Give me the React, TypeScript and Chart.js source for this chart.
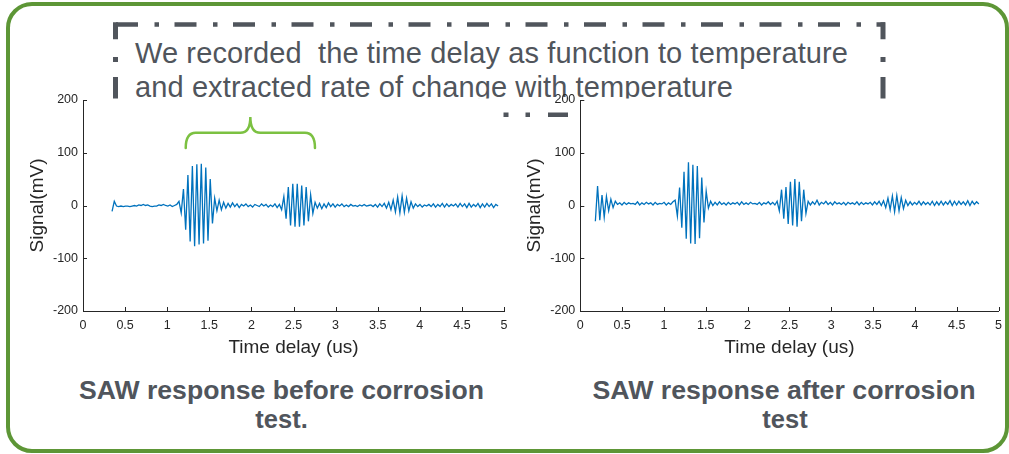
import React, { useEffect, useRef } from "react";
import { Chart, registerables } from "chart.js";

Chart.register(...registerables);

// ---- recorded traces ------------------------------------------------------
// Both traces were sampled every SAMPLE_STEP microseconds.
const SAMPLE_STEP = 0.0265;
const BEFORE_START = 0.345;
const AFTER_START = 0.18;

// Signal (mV) before the corrosion test
const BEFORE_SIGNAL = [
  -11, 8,
  -1, -2, -1, -2, -1, -1, -2, -1, 0, -1, 1, 0, 2, 0, 1, -1, -2, -1, -1, 1, 0, 2, 0, -1, 1, -2, 0, 2,
  8, -14, 31, -46, 58, -68, 75, -77, 78, -74, 79, -72, 72, -67, 50, -34, 14, -10, 10,
  -8, 6, -5, 4, -3, 5, -2, 3, -4, 2, -1, 3, -2, 1, -3, 2, 0, -2, 3, -1, 2, -3, 1, -2, 3, -4, 2,
  -8, 17, -25, 35, -38, 41, -40, 41, -40, 38, -38, 35, -30, 20, -15,
  6, -5, 4, -6, 3, -4, 5, -2, 3, -3, 2, -1, 3, -2, 1, -2, 2, -1, 0, -2, 1, -1, 2, -1, 0, 1, -2, 2, -3, 3, -2, 4, -5,
  6, -8, 10, -12, 16, -14, 18, -13, 14, -10, 7,
  -5, 3, -2, 2, -3, 1, -1, 2, -2, 3, -3, 2, -2, 4, -3, 3, -2, 2, -1, 3, -3, 4, -2, 3, -4, 4, -3, 2, -2, 4, -4, 3, -3, 4, -2, 3, -4, 2, -1,
];

// Signal (mV) after the corrosion test
const AFTER_SIGNAL = [
  -30, 37, -28, 20, -22, 17, -10, 12, -4, 8,
  2, 5, 1, 6, 2, 5, 3, 4, 2, 7, 1, 5, 2, 6, 3, 5, 1, 6, 2, 4, 3, 6, 1, 5, 2, 7,
  10, -20, 34, -42, 64, -63, 82, -72, 77, -73, 75, -62, 53, -32, 27, -5,
  8, 0, 6, 1, 7, 2, 5, 1, 6, 2, 5, 3, 6, 1, 7, 2, 5, 2, 6, 3, 4, 2, 6, 1, 5, 3, 7, 2, 6, 1, 8,
  -10, 30, -25, 35, -35, 45, -38, 50, -40, 45, -30, 30, -15,
  8, 1, 7, 2, 10, 1, 6, 3, 8, 2, 6, 1, 7, 3, 5, 2, 6, 1, 6, 3, 5, 2, 7, 1, 6, 2, 5, 3, 6, 1, 7, 2, 8, 0, 9,
  -4, 14, -8, 18, -12, 19, -10, 15, -6, 10,
  0, 7, 1, 6, 2, 8, 1, 7, 2, 6, 1, 8, 0, 7, 1, 8, 1, 7, 2, 9, 0, 8, 1, 8, 2, 7, 1, 9, 0, 8, 2, 7, 3,
];

// ---- axes -----------------------------------------------------------------
const X_TICKS = [0, 0.5, 1, 1.5, 2, 2.5, 3, 3.5, 4, 4.5, 5];
const Y_TICKS = [-200, -100, 0, 100, 200];
const X_TITLE = "Time delay (us)";
const Y_TITLE = "Signal(mV)";

// ---- texts ----------------------------------------------------------------
const NOTE_LINES = [
  "We recorded  the time delay as function to temperature",
  "and extracted rate of change with temperature",
];
const CAPTION_BEFORE = ["SAW response before corrosion", "test."];
const CAPTION_AFTER = ["SAW response after corrosion", "test"];

// Bracket spanning the first two echoes (time in us, level in mV)
const BRACE = { from: 1.22, to: 2.755, base: 109, arm: 138, tip: 168 };

// ---- styling --------------------------------------------------------------
const PAGE_W = 1009;
const PAGE_H = 454;
const LINE_COLOR = "#0072BD";
const AXIS_COLOR = "#262626";
const SLATE = "#50555c";
const FRAME_GREEN = "#5d9636";
const BRACE_GREEN = "#7cc142";
const FONT = "'Liberation Sans', Arial, Helvetica, sans-serif";

const toPoints = (start: number, values: number[]) =>
  values.map((v, i) => ({ x: start + i * SAMPLE_STEP, y: v }));

// MATLAB-style tick marks pointing into the plot box
const innerTicks = {
  id: "innerTicks",
  afterDraw(chart: any) {
    const { ctx, chartArea, scales } = chart;
    ctx.save();
    ctx.strokeStyle = AXIS_COLOR;
    ctx.lineWidth = 1;
    ctx.beginPath();
    scales.x.ticks.forEach((t: any) => {
      const px = Math.round(scales.x.getPixelForValue(t.value)) + 0.5;
      ctx.moveTo(px, chartArea.bottom);
      ctx.lineTo(px, chartArea.bottom - 4);
    });
    scales.y.ticks.forEach((t: any) => {
      const py = Math.round(scales.y.getPixelForValue(t.value)) + 0.5;
      ctx.moveTo(chartArea.left, py);
      ctx.lineTo(chartArea.left + 4, py);
    });
    ctx.stroke();
    ctx.restore();
  },
};

const bracePlugin = {
  id: "echoBrace",
  afterDatasetsDraw(chart: any) {
    const { ctx, scales } = chart;
    const xs = scales.x;
    const ys = scales.y;
    const x0 = xs.getPixelForValue(BRACE.from);
    const x1 = xs.getPixelForValue(BRACE.to);
    const xm = (x0 + x1) / 2;
    const yb = ys.getPixelForValue(BRACE.base);
    const ya = ys.getPixelForValue(BRACE.arm);
    const yt = ys.getPixelForValue(BRACE.tip);
    const r = 10;
    ctx.save();
    ctx.strokeStyle = BRACE_GREEN;
    ctx.lineWidth = 2.5;
    ctx.lineCap = "round";
    ctx.beginPath();
    ctx.moveTo(x0, yb);
    ctx.quadraticCurveTo(x0, ya, x0 + r, ya);
    ctx.lineTo(xm - r, ya);
    ctx.quadraticCurveTo(xm, ya, xm, yt);
    ctx.quadraticCurveTo(xm, ya, xm + r, ya);
    ctx.lineTo(x1 - r, ya);
    ctx.quadraticCurveTo(x1, ya, x1, yb);
    ctx.stroke();
    ctx.restore();
  },
};

function makeConfig(start: number, values: number[], padding: any, extra: any[]) {
  const tickFont = { family: FONT, size: 12.5 };
  const titleFont = { family: FONT, size: 19 };
  return {
    type: "line",
    data: {
      datasets: [
        {
          data: toPoints(start, values),
          borderColor: LINE_COLOR,
          borderWidth: 1.3,
          pointRadius: 0,
          tension: 0,
          fill: false,
        },
      ],
    },
    options: {
      responsive: false,
      animation: false,
      devicePixelRatio: 1,
      layout: { padding },
      plugins: { legend: { display: false }, tooltip: { enabled: false } },
      scales: {
        x: {
          type: "linear",
          min: X_TICKS[0],
          max: X_TICKS[X_TICKS.length - 1],
          afterBuildTicks: (s: any) => {
            s.ticks = X_TICKS.map((v) => ({ value: v }));
          },
          afterFit: (s: any) => {
            s.height = 48;
          },
          ticks: {
            color: AXIS_COLOR,
            font: tickFont,
            padding: 7,
            maxRotation: 0,
            autoSkip: false,
            callback: (v: any) => String(v),
          },
          grid: { display: false, drawTicks: false },
          border: { display: true, color: AXIS_COLOR, width: 1 },
          title: { display: true, text: X_TITLE, color: AXIS_COLOR, font: titleFont, padding: 0 },
        },
        y: {
          type: "linear",
          min: Y_TICKS[0],
          max: Y_TICKS[Y_TICKS.length - 1],
          afterBuildTicks: (s: any) => {
            s.ticks = Y_TICKS.map((v) => ({ value: v }));
          },
          afterFit: (s: any) => {
            s.width = 60;
          },
          ticks: {
            color: AXIS_COLOR,
            font: tickFont,
            padding: 5,
            autoSkip: false,
            callback: (v: any) => String(v),
          },
          grid: { display: false, drawTicks: false },
          border: { display: true, color: AXIS_COLOR, width: 1 },
          title: {
            display: true,
            text: Y_TITLE,
            color: AXIS_COLOR,
            font: titleFont,
            padding: { top: 3, bottom: 0 },
          },
        },
      },
    },
    plugins: [innerTicks, ...extra],
  };
}

function SignalChart(props: { start: number; values: number[]; padding: any; extra: any[] }) {
  const ref = useRef<HTMLCanvasElement | null>(null);
  useEffect(() => {
    if (!ref.current) return;
    const chart = new Chart(ref.current, makeConfig(props.start, props.values, props.padding, props.extra) as any);
    return () => chart.destroy();
  }, []);
  return (
    <canvas
      ref={ref}
      width={PAGE_W}
      height={PAGE_H}
      style={{ position: "absolute", left: 0, top: 0, width: PAGE_W, height: PAGE_H }}
    />
  );
}

function Overlay() {
  const dash = { fill: SLATE };
  return (
    <svg
      width={PAGE_W}
      height={PAGE_H}
      style={{ position: "absolute", left: 0, top: 0 }}
      xmlns="http://www.w3.org/2000/svg"
    >
      <defs>
        <clipPath id="noteClip">
          <rect x={0} y={0} width={PAGE_W} height={98.5} />
        </clipPath>
      </defs>
      <g clipPath="url(#noteClip)">
        {/* dash-dot frame around the note */}
        <line
          x1={116}
          y1={24.5}
          x2={885}
          y2={24.5}
          stroke={SLATE}
          strokeWidth={4.5}
          strokeDasharray="22 16.5 4.5 15.5"
        />
        <rect x={113} y={22.25} width={5} height={17} {...dash} />
        <rect x={113} y={57} width={5} height={5} {...dash} />
        <rect x={113} y={77} width={5} height={24} {...dash} />
        <rect x={880.5} y={22.25} width={5} height={17} {...dash} />
        <rect x={880.5} y={57} width={5} height={5} {...dash} />
        <rect x={880.5} y={77} width={5} height={24} {...dash} />
        <text
          x={135}
          y={63}
          fontFamily={FONT}
          fontSize={29}
          fill={SLATE}
          textLength={713}
          lengthAdjust="spacing"
          style={{ whiteSpace: "pre" }}
        >
          {NOTE_LINES[0]}
        </text>
        <text
          x={135}
          y={96.7}
          fontFamily={FONT}
          fontSize={29}
          fill={SLATE}
          textLength={598}
          lengthAdjust="spacing"
          style={{ whiteSpace: "pre" }}
        >
          {NOTE_LINES[1]}
        </text>
      </g>
      <rect x={503.5} y={112.5} width={5} height={4.5} {...dash} />
      <rect x={525.5} y={112.5} width={4.5} height={4.5} {...dash} />
      <rect x={548} y={112.5} width={20} height={4.5} {...dash} />

      {/* captions under the plots */}
      <g fontFamily={FONT} fontWeight="bold" fontSize={25.5} fill={SLATE} textAnchor="middle">
        <text x={281.5} y={399.3} textLength={405} lengthAdjust="spacingAndGlyphs">
          {CAPTION_BEFORE[0]}
        </text>
        <text x={281.5} y={428.3}>{CAPTION_BEFORE[1]}</text>
        <text x={784} y={399.3} textLength={383} lengthAdjust="spacingAndGlyphs">
          {CAPTION_AFTER[0]}
        </text>
        <text x={785} y={428.3}>{CAPTION_AFTER[1]}</text>
      </g>
    </svg>
  );
}

export default function App() {
  return (
    <div
      style={{
        position: "fixed",
        left: 0,
        top: 0,
        width: PAGE_W,
        height: PAGE_H,
        background: "#ffffff",
        overflow: "hidden",
      }}
    >
      <Overlay />
      <SignalChart
        start={BEFORE_START}
        values={BEFORE_SIGNAL}
        padding={{ left: 23, right: PAGE_W - 504, top: 100, bottom: PAGE_H - 311 - 48 }}
        extra={[bracePlugin]}
      />
      <SignalChart
        start={AFTER_START}
        values={AFTER_SIGNAL}
        padding={{ left: 520.3, right: 8, top: 100, bottom: PAGE_H - 311 - 48 }}
        extra={[]}
      />
      <div
        style={{
          position: "absolute",
          left: 6,
          top: 2,
          width: 1002.5,
          height: 451,
          boxSizing: "border-box",
          border: `4.5px solid ${FRAME_GREEN}`,
          borderRadius: 26,
          pointerEvents: "none",
        }}
      />
    </div>
  );
}
